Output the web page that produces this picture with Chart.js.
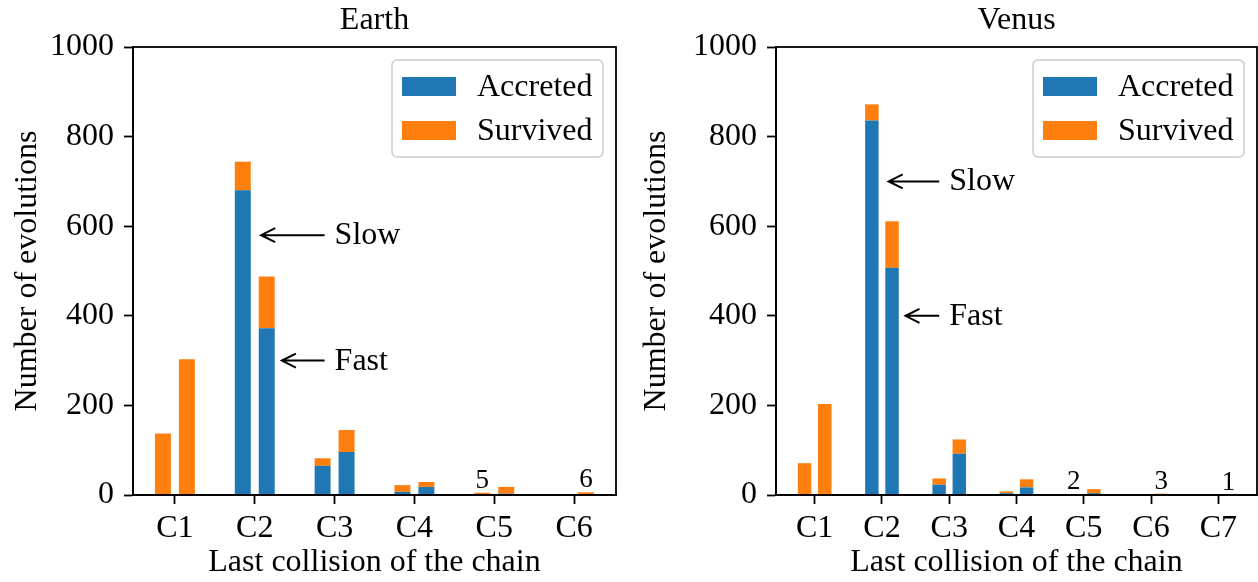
<!DOCTYPE html>
<html>
<head>
<meta charset="utf-8">
<script src="https://cdn.jsdelivr.net/npm/chart.js@4.4.0/dist/chart.umd.min.js"></script>
<style>
  html, body { margin: 0; padding: 0; background: #fff; }
  #wrap { position: relative; width: 1258px; height: 582px; overflow: hidden; }
  canvas { position: absolute; top: 0; }
  #earth { left: 0; }
  #venus { left: 629px; }
</style>
</head>
<body>
<div id="wrap">
  <canvas id="earth" width="629" height="582"></canvas>
  <canvas id="venus" width="629" height="582"></canvas>
</div>
<script>
const BLUE = '#1f77b4';
const ORANGE = '#ff7f0e';
const FONT = '"Liberation Serif", "Times New Roman", serif';

// Earth
const earthCategories = ['C1', 'C2', 'C3', 'C4', 'C5', 'C6'];
const earthSlowAccreted = [0, 680, 65, 7, 0, 0];
const earthSlowSurvived = [137, 64, 17, 15, 5, 0];
const earthFastAccreted = [0, 372, 96, 18, 3, 0];
const earthFastSurvived = [303, 116, 49, 11, 15, 6];
const earthSlowNotes = ['', '', '', '', '5', ''];
const earthFastNotes = ['', '', '', '', '', '6'];

// Venus
const venusCategories = ['C1', 'C2', 'C3', 'C4', 'C5', 'C6', 'C7'];
const venusSlowAccreted = [0, 836, 23, 4, 0, 0, 0];
const venusSlowSurvived = [71, 36, 14, 4, 2, 0, 0];
const venusFastAccreted = [0, 507, 92, 17, 4, 0, 0];
const venusFastSurvived = [203, 104, 32, 18, 9, 3, 1];
const venusSlowNotes = ['', '', '', '', '2', '', ''];
const venusFastNotes = ['', '', '', '', '', '3', '1'];

const yTicks = [0, 200, 400, 600, 800, 1000];

// arrows: head at (x, y), text starts at textX (data coords)
const earthArrows = [
  { text: 'Slow', x: 1.08, y: 580, textX: 2 },
  { text: 'Fast', x: 1.34, y: 300, textX: 2 }
];
const venusArrows = [
  { text: 'Slow', x: 1.1, y: 700, textX: 2 },
  { text: 'Fast', x: 1.35, y: 400, textX: 2 }
];

// frame, title, legend, count labels and arrows
const decorations = {
  id: 'decorations',
  afterDatasetsDraw(chart, args, opts) {
    const { ctx, chartArea: a, scales: { x, y } } = chart;
    ctx.save();
    ctx.strokeStyle = '#000';
    ctx.lineWidth = 1.8;
    ctx.strokeRect(a.left, a.top, a.right - a.left, a.bottom - a.top);

    ctx.fillStyle = '#000';
    ctx.font = '32px ' + FONT;
    ctx.textAlign = 'center';
    ctx.textBaseline = 'alphabetic';
    ctx.fillText(opts.title, (a.left + a.right) / 2, a.top - 18);

    // small counts over the bars
    ctx.font = '27px ' + FONT;
    [[1, opts.slowNotes], [3, opts.fastNotes]].forEach(([di, notes]) => {
      const meta = chart.getDatasetMeta(di);
      notes.forEach((t, i) => {
        if (!t) return;
        const el = meta.data[i];
        ctx.fillText(t, el.x, el.y - 5);
      });
    });

    // arrows
    ctx.font = '32px ' + FONT;
    ctx.textAlign = 'left';
    ctx.lineWidth = 2;
    opts.arrows.forEach(ar => {
      const hx = x.getPixelForValue(ar.x);
      const hy = y.getPixelForValue(ar.y);
      const tx = x.getPixelForValue(ar.textX);
      ctx.beginPath();
      ctx.moveTo(tx - 10, hy);
      ctx.lineTo(hx, hy);
      ctx.moveTo(hx + 14, hy - 7);
      ctx.lineTo(hx, hy);
      ctx.lineTo(hx + 14, hy + 7);
      ctx.stroke();
      ctx.fillText(ar.text, tx, hy + 9);
    });

    // legend
    const w = 211, h = 97;
    const x0 = a.right - 13 - w, y0 = a.top + 13;
    ctx.beginPath();
    ctx.roundRect(x0, y0, w, h, 5);
    ctx.fillStyle = 'rgba(255,255,255,0.8)';
    ctx.fill();
    ctx.strokeStyle = '#cccccc';
    ctx.lineWidth = 1.5;
    ctx.stroke();
    chart.data.datasets.slice(0, 2).forEach((ds, k) => {
      ctx.fillStyle = ds.backgroundColor;
      ctx.fillRect(x0 + 10, y0 + 17 + k * 44, 54, 19);
      ctx.fillStyle = '#000';
      ctx.fillText(ds.label, x0 + 85, y0 + 36 + k * 44);
    });
    ctx.restore();
  }
};

function buildChart(id, title, cats, slowAcc, slowSurv, fastAcc, fastSurv, slowNotes, fastNotes, arrows, yAxisWidth, padRight) {
  const pts = arr => arr.map((v, i) => ({ x: i, y: v }));
  const n = cats.length;
  const span = n - 0.5;
  const xMin = -0.25 - 0.05 * span;
  const xMax = n - 1 + 0.25 + 0.05 * span;
  const font = { family: FONT, size: 32 };

  return new Chart(document.getElementById(id), {
    type: 'bar',
    data: {
      datasets: [
        { label: 'Accreted', data: pts(slowAcc), stack: 'slow', backgroundColor: BLUE },
        { label: 'Survived', data: pts(slowSurv), stack: 'slow', backgroundColor: ORANGE },
        { label: 'Accreted', data: pts(fastAcc), stack: 'fast', backgroundColor: BLUE },
        { label: 'Survived', data: pts(fastSurv), stack: 'fast', backgroundColor: ORANGE }
      ]
    },
    options: {
      responsive: false,
      animation: false,
      devicePixelRatio: 1,
      categoryPercentage: 0.6,
      barPercentage: 2 / 3,
      layout: { padding: { top: 47, right: padRight, left: 0, bottom: 0 } },
      plugins: {
        legend: { display: false },
        tooltip: { enabled: false },
        decorations: { title, slowNotes, fastNotes, arrows }
      },
      scales: {
        x: {
          type: 'linear',
          min: xMin,
          max: xMax,
          offset: false,
          stacked: true,
          afterBuildTicks: s => { s.ticks = cats.map((c, i) => ({ value: i })); },
          afterFit: s => { s.height = 87; },
          ticks: {
            callback: v => cats[v],
            font, color: '#000', padding: 5, maxRotation: 0, autoSkip: false
          },
          grid: { offset: false, drawOnChartArea: false, tickLength: 9, color: '#000', tickWidth: 1.8 },
          border: { display: true, color: '#000', width: 1.8 },
          title: { display: true, text: 'Last collision of the chain', font, color: '#000', padding: { top: 0, bottom: 0 } }
        },
        y: {
          type: 'linear',
          min: 0,
          max: 1000,
          stacked: true,
          afterBuildTicks: s => { s.ticks = yTicks.map(v => ({ value: v })); },
          afterFit: s => { s.width = yAxisWidth; },
          ticks: { font, color: '#000', padding: 10, callback: v => String(v) },
          grid: { drawOnChartArea: false, tickLength: 9, color: '#000', tickWidth: 1.8 },
          border: { display: true, color: '#000', width: 1.8 },
          title: { display: true, text: 'Number of evolutions', font, color: '#000', padding: { top: 8, bottom: 0 } }
        }
      }
    },
    plugins: [decorations]
  });
}

buildChart('earth', 'Earth', earthCategories,
  earthSlowAccreted, earthSlowSurvived, earthFastAccreted, earthFastSurvived,
  earthSlowNotes, earthFastNotes, earthArrows, 133, 13);

buildChart('venus', 'Venus', venusCategories,
  venusSlowAccreted, venusSlowSurvived, venusFastAccreted, venusFastSurvived,
  venusSlowNotes, venusFastNotes, venusArrows, 147, 1);
</script>
</body>
</html>
